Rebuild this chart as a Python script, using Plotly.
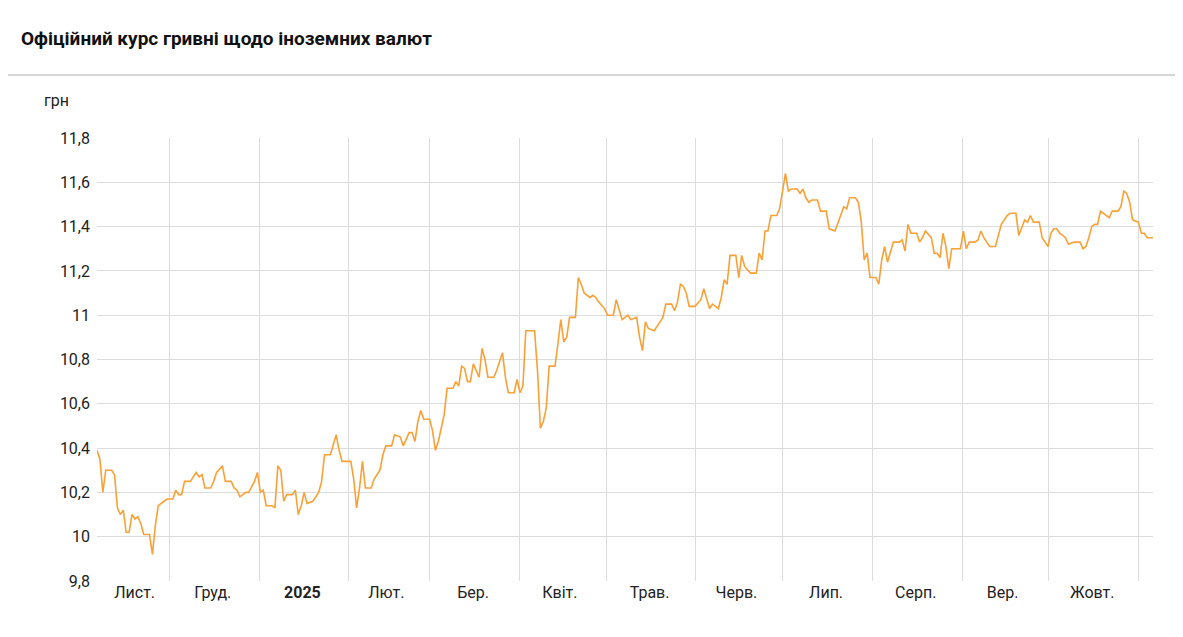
import plotly.graph_objects as go
import pandas as pd

title = "Офіційний курс гривні щодо іноземних валют"
start = pd.Timestamp("2024-11-06")
day_offsets = [0,1,2,3,5,6,7,8,9,10,11,12,13,14,15,16,18,19,20,21,23,24,26,27,28,29,30,32,34,35,36,37,39,40,41,43,44,46,47,48,49,51,52,54,55,56,57,58,60,61,62,63,64,65,67,68,69,70,71,72,74,76,77,78,80,81,82,83,84,87,88,89,90,91,92,94,95,97,98,99,101,102,104,105,107,108,109,110,111,112,114,115,116,117,119,120,122,123,124,125,126,127,128,129,130,131,132,133,134,136,137,139,140,141,143,144,145,146,147,150,151,152,153,154,155,157,158,159,160,161,162,164,165,166,167,169,170,171,172,174,175,177,178,179,180,182,183,185,186,187,188,189,191,193,194,195,197,198,199,200,201,202,203,205,207,208,209,210,211,213,214,215,216,217,219,220,221,222,224,226,227,228,229,230,231,233,234,235,236,237,238,240,241,242,243,244,245,247,248,250,251,253,254,256,257,258,260,261,262,263,264,265,267,268,269,270,271,272,273,275,276,277,278,279,281,282,283,284,286,287,288,289,290,291,292,293,296,297,298,299,301,302,303,304,306,308,309,310,312,313,315,316,318,319,320,321,323,324,325,326,327,328,329,330,332,333,335,337,338,339,340,341,342,343,344,346,347,348,350,351,352,353,354,355,357,358,359,360,362]
rate = [10.39,10.35,10.20,10.30,10.30,10.28,10.13,10.10,10.12,10.02,10.02,10.10,10.08,10.09,10.06,10.01,10.01,9.92,10.05,10.14,10.16,10.17,10.17,10.21,10.19,10.19,10.25,10.25,10.29,10.27,10.28,10.22,10.22,10.25,10.29,10.32,10.25,10.25,10.22,10.21,10.18,10.20,10.20,10.25,10.29,10.20,10.21,10.14,10.14,10.13,10.32,10.30,10.16,10.19,10.19,10.21,10.10,10.14,10.20,10.15,10.16,10.20,10.25,10.37,10.37,10.41,10.46,10.39,10.34,10.34,10.26,10.13,10.22,10.34,10.22,10.22,10.26,10.30,10.37,10.41,10.41,10.46,10.45,10.41,10.47,10.47,10.43,10.52,10.57,10.53,10.53,10.48,10.39,10.43,10.55,10.67,10.67,10.70,10.68,10.77,10.76,10.70,10.70,10.78,10.75,10.72,10.85,10.80,10.72,10.72,10.75,10.83,10.72,10.65,10.65,10.71,10.65,10.68,10.93,10.93,10.75,10.49,10.52,10.58,10.77,10.77,10.87,10.98,10.88,10.90,10.99,10.99,11.17,11.14,11.10,11.08,11.09,11.08,11.06,11.03,11.00,11.00,11.07,11.03,10.98,11.00,10.98,10.99,10.90,10.84,10.97,10.94,10.93,10.97,10.99,11.05,11.05,11.02,11.06,11.14,11.13,11.10,11.04,11.04,11.07,11.12,11.08,11.03,11.05,11.03,11.08,11.16,11.14,11.27,11.27,11.17,11.27,11.22,11.19,11.19,11.28,11.25,11.38,11.38,11.45,11.45,11.48,11.57,11.64,11.56,11.57,11.57,11.55,11.57,11.53,11.51,11.52,11.52,11.47,11.47,11.39,11.38,11.42,11.49,11.48,11.53,11.53,11.51,11.42,11.25,11.28,11.17,11.17,11.14,11.25,11.31,11.24,11.28,11.33,11.33,11.34,11.29,11.41,11.37,11.37,11.33,11.35,11.38,11.35,11.28,11.28,11.26,11.37,11.31,11.21,11.30,11.30,11.38,11.30,11.33,11.33,11.34,11.38,11.35,11.31,11.31,11.36,11.41,11.45,11.46,11.46,11.36,11.43,11.42,11.45,11.42,11.42,11.35,11.33,11.31,11.37,11.39,11.39,11.37,11.35,11.32,11.33,11.33,11.30,11.31,11.35,11.40,11.41,11.41,11.47,11.45,11.44,11.47,11.47,11.49,11.56,11.55,11.51,11.43,11.42,11.37,11.37,11.35,11.35]
tick_dates = ["2024-11-19","2024-12-16","2025-01-16","2025-02-14","2025-03-16","2025-04-15","2025-05-16","2025-06-15","2025-07-16","2025-08-16","2025-09-15","2025-10-16"]
tick_text = ["Лист.","Груд.","<b>2025</b>","Лют.","Бер.","Квіт.","Трав.","Черв.","Лип.","Серп.","Вер.","Жовт."]

scale = 365 / 362  # calibration of read-off day offsets to axis span
dates = [start + pd.Timedelta(days=d * scale) for d in day_offsets]

fig = go.Figure(go.Scatter(x=dates, y=rate, mode="lines",
                           line=dict(color="#f9a036", width=1.6), hoverinfo="x+y"))

fig.update_layout(
    width=1183, height=637, margin=dict(l=89, r=38, t=130, b=64),
    paper_bgcolor="white", plot_bgcolor="white", showlegend=False,
    separators=", ", font=dict(family="Roboto", size=16, color="#222"),
    xaxis=dict(range=[start, pd.Timestamp("2025-11-06")], tickvals=tick_dates, ticktext=tick_text,
               showgrid=False, ticks="", zeroline=False, showline=False,
               minor=dict(tick0="2024-12-01", dtick="M1", showgrid=True, gridcolor="#dcdcdc", gridwidth=1)),
    yaxis=dict(range=[9.8, 11.8], dtick=0.2, gridcolor="#dcdcdc", zeroline=False, ticks="", ticklabelstandoff=6),
    annotations=[
        dict(text="грн", xref="paper", yref="paper", x=-0.052, y=1.085, showarrow=False,
             font=dict(size=16, color="#222"), xanchor="left", yanchor="middle"),
        dict(text="<b>" + title + "</b>", xref="paper", yref="paper", x=-0.0735, y=1.224, showarrow=False,
             font=dict(size=19, color="#111", family="Roboto"), xanchor="left", yanchor="middle"),
    ],
    shapes=[
        dict(type="line", xref="paper", yref="paper", x0=-0.092, x1=1.04, y0=1.142, y1=1.142,
             line=dict(color="#d6d6d6", width=2)),
        dict(type="line", xref="paper", yref="paper", x0=-0.0915, x1=-0.0915, y0=1.142, y1=1.32,
             line=dict(color="#bbbbbb", width=1.5)),
    ],
)
fig.write_html("out.html")
